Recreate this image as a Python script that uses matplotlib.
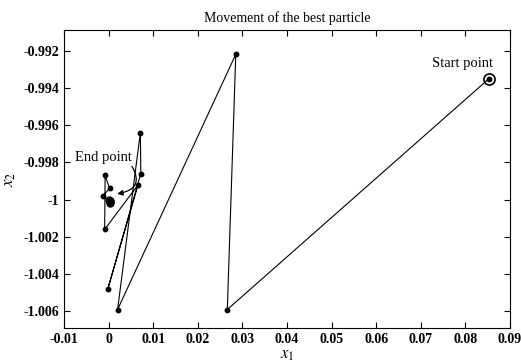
import matplotlib
matplotlib.use("Agg")
import matplotlib.pyplot as plt
from matplotlib.ticker import FuncFormatter

# path of the best particle, start -> end
x1 = [0.0853, 0.0266, 0.0285, 0.0020, 0.0071, 0.0072, -0.0002, 0.0066,
      -0.0009, -0.0008, 0.0002, -0.0013, 0.0004, 0.0001, 0.0003, 0.0002]
x2 = [-0.9935, -1.0059, -0.9922, -1.0059, -0.9964, -0.9986, -1.0048, -0.9992,
      -1.0016, -0.9987, -0.9994, -0.9998, -1.0001, -1.0000, -1.0002, -1.0001]

xticks = [-0.01, 0, 0.01, 0.02, 0.03, 0.04, 0.05, 0.06, 0.07, 0.08, 0.09]
yticks = [-1.006, -1.004, -1.002, -1.0, -0.998, -0.996, -0.994, -0.992]

plt.rcParams['font.family'] = ['Liberation Serif', 'DejaVu Serif']
plt.rcParams['mathtext.fontset'] = 'stix'

fig = plt.figure(figsize=(5.21, 3.63), dpi=100)
ax = fig.add_axes([0.123, 0.096, 0.856, 0.821])

ax.plot(x1, x2, color='black', lw=0.8, marker='o', ms=3.2)
ax.plot(x1[-4:], x2[-4:], color='black', lw=1.5, marker='o', ms=5)
ax.plot(x1[0], x2[0], marker='o', ms=8, mfc='none', mec='black', mew=1.2)

ax.set_xlim(-0.01, 0.09)
ax.set_ylim(-1.0069, -0.9909)
ax.set_xticks(xticks)
ax.set_yticks(yticks)
fmt = FuncFormatter(lambda v, p: '%g' % round(v, 4))
ax.xaxis.set_major_formatter(fmt)
ax.yaxis.set_major_formatter(fmt)
ax.tick_params(direction='in', top=True, right=True, length=4, labelsize=10)
for lab in ax.get_xticklabels() + ax.get_yticklabels():
    lab.set_fontweight('bold')

ax.set_title('Movement of the best particle', fontsize=10, pad=6)
ax.set_xlabel('$x_1$', fontsize=12, labelpad=1)
ax.set_ylabel('$x_2$', fontsize=12, labelpad=4)

ax.text(0.0793, -0.9927, 'Start point', fontsize=10.5, ha='center', va='center')
ax.annotate('End point', xy=(0.0016, -0.9997), xytext=(-0.0011, -0.99772),
            fontsize=10.5, ha='center', va='center',
            arrowprops=dict(arrowstyle='-|>', color='black', lw=0.9,
                            mutation_scale=8, relpos=(0.95, 0.1),
                            shrinkA=0, shrinkB=1,
                            connectionstyle='arc3,rad=-0.8'))

fig.savefig('out.png', dpi=100)
